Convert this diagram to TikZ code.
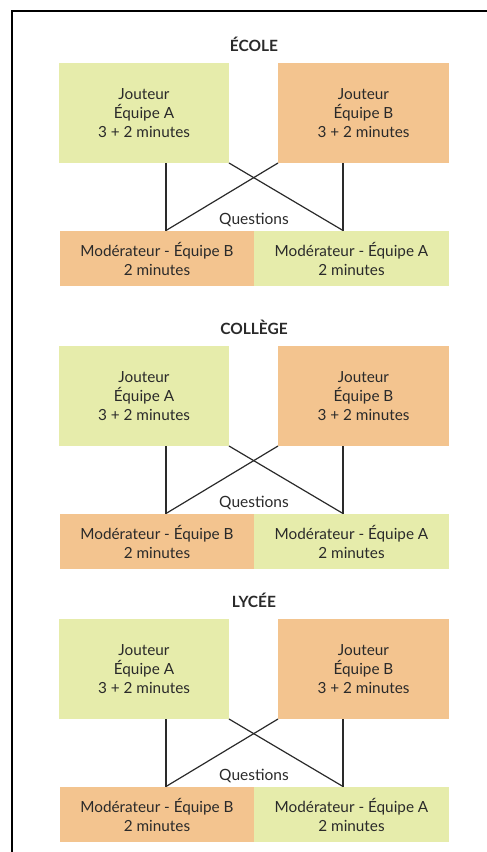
\documentclass[tikz,border=0pt]{standalone}
\usepackage{fontspec}
\setmainfont{Lato}
\definecolor{vert}{HTML}{E6ECAB}
\definecolor{orange}{HTML}{F3C48F}
\definecolor{ink}{HTML}{2A2A2A}
\begin{document}
\begin{tikzpicture}[x=1pt,y=-1pt,
  box/.style={rectangle,inner sep=0pt,outer sep=0pt,align=center,text=ink,
    font=\fontsize{15.3}{19}\selectfont},
  joueur/.style={box,minimum height=100pt},
  modo/.style={box,minimum height=55pt},
  titre/.style={font=\fontsize{15.5}{17}\selectfont\bfseries,text=ink},
  lien/.style={draw=ink,line width=1.2pt},
  qlabel/.style={font=\fontsize{15.5}{17}\selectfont,text=ink,inner sep=0pt}]
\useasboundingbox (0,0) rectangle (487,852);
\draw[line width=2pt,black] (12,852) -- (12,11) -- (487,11);
\foreach \n/\T/\ttl in {e/63/ÉCOLE, c/346/COLLÈGE, l/619/LYCÉE}{
  \node[titre] (t\n) at (254,\T-19) {\ttl};
  \node[joueur,fill=vert,minimum width=170pt] (a\n) at (144,\T+50) {Jouteur\\Équipe A\\3 + 2 minutes};
  \node[joueur,fill=orange,minimum width=171pt] (b\n) at (363.5,\T+50) {Jouteur\\Équipe B\\3 + 2 minutes};
  \node[modo,fill=orange,minimum width=194pt] (mb\n) at (157,\T+195.5) {Modérateur - Équipe B\\2 minutes};
  \node[modo,fill=vert,minimum width=195pt] (ma\n) at (351.5,\T+195.5) {Modérateur - Équipe A\\2 minutes};
  \node[qlabel] (q\n) at (254,\T+157) {Questions};
  \coordinate (al\n) at (166,\T+100);
  \coordinate (bl\n) at (343,\T+100);
  \coordinate (ml\n) at (166,\T+167.5);
  \coordinate (mr\n) at (343,\T+167.5);
  \draw[lien] (al\n) -- (ml\n);
  \draw[lien] (bl\n) -- (mr\n);
  \draw[lien] (a\n.south east) -- (mr\n);
  \draw[lien] (b\n.south west) -- (ml\n);
}
\end{tikzpicture}
\end{document}
